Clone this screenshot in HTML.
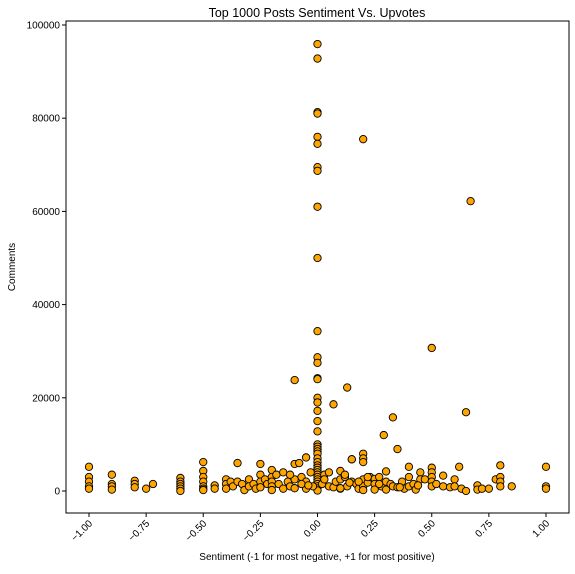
<!DOCTYPE html>
<html><head><meta charset="utf-8"><style>
body{margin:0;background:#fff;font-family:"Liberation Sans",sans-serif;}
svg text{font-family:"Liberation Sans",sans-serif;fill:#000;}
</style></head><body>
<svg id="chart" width="575" height="569"></svg>
<script>
const sentiments=[0,0,0,0,0,0,0,0,0,0,0,0,0,0,0,0,0,0,0,0,0,0,0,0,0,0,0,0,0,0,0,0,0,0,0,0,0,0,0,
-0.1,0.2,0.67,0.5,0.13,0.07,0.65,0.33,0.29,0.35,0.15,0.2,0.2,0.2,
-1,-1,-1,-1,-1,-0.9,-0.9,-0.9,-0.9,-0.8,-0.8,-0.8,-0.75,-0.72,-0.6,-0.6,-0.6,-0.6,-0.6,-0.6,
-0.5,-0.5,-0.5,-0.5,-0.5,-0.5,-0.5,-0.45,-0.45,-0.4,-0.4,-0.4,-0.38,-0.37,-0.35,-0.35,-0.33,-0.32,-0.3,-0.3,-0.28,-0.27,-0.25,-0.25,-0.25,-0.25,-0.23,-0.22,-0.2,-0.2,-0.2,-0.2,-0.2,-0.18,-0.17,-0.15,-0.15,-0.13,-0.12,-0.1,-0.1,-0.1,-0.08,-0.07,-0.05,-0.05,-0.05,-0.03,-0.02,-0.12,-0.07,-0.04,
0.02,0.03,0.05,0.07,0.08,0.1,0.1,0.1,0.12,0.13,0.15,0.15,0.17,0.18,0.2,0.2,0.2,0.22,0.23,0.25,0.25,0.25,0.27,0.28,0.3,0.3,0.3,0.32,0.33,0.35,0.37,0.38,0.4,0.4,0.4,0.42,0.43,0.45,0.45,0.47,0.5,0.5,0.5,0.5,0.5,0.52,0.55,0.55,0.58,0.6,0.6,0.62,0.63,0.65,0.7,0.7,0.72,0.75,0.78,0.8,0.8,0.8,0.8,0.85,1,1,1,0.05,0.12,0.18,0.27,0.36,0.44,0.1,0.03,0.22,0.14];
const comments=[95900,92800,81300,81000,76000,74500,69500,68700,61000,50000,34300,28700,27500,24200,24000,20000,19000,17200,15000,12800,10000,9500,9000,8500,8000,7000,6200,5500,5000,4500,4000,3500,3000,2500,2000,1500,1000,500,100,
23800,75500,62200,30700,22200,18600,16900,15800,12000,9000,6800,8000,7000,6200,
5200,3000,2000,1000,500,3500,1500,1000,300,2200,1500,800,500,1500,2800,2000,1500,1000,500,0,
6200,4300,3000,2000,1000,500,200,1200,500,2500,1500,500,2000,1000,6000,2000,1500,200,2500,1000,1500,500,5800,3500,2000,800,2500,1500,4500,3000,2000,1000,200,3500,1500,4000,500,2000,1000,5800,2500,600,6000,3000,7200,2000,500,4000,1000,3500,1500,1200,
1500,3500,1000,800,2000,4300,2500,500,3000,1000,6800,2000,1500,500,2500,1000,200,1800,3000,2600,1500,300,3000,1000,4200,2000,300,1500,1000,800,2000,500,5200,3000,1000,1500,300,4000,2500,2500,5000,4000,3000,2000,1000,1500,3300,1000,800,2500,1000,5200,500,0,1200,300,500,500,2500,5500,3000,2000,1000,1000,5200,1000,500,4000,3500,2000,1500,800,1200,600,2500,3000,1800];
const xTicks=[-1,-0.75,-0.5,-0.25,0,0.25,0.5,0.75,1];
const yTicks=[0,20000,40000,60000,80000,100000];
const svg=document.getElementById('chart');
const NS='http://www.w3.org/2000/svg';
const L=66,R=569,T=21,B=513;
const xs=v=>317.5+v*228.5;
const ys=v=>491-v*0.00466;
function mk(t,a){const e=document.createElementNS(NS,t);for(const k in a)e.setAttribute(k,a[k]);svg.appendChild(e);return e;}
const title=mk('text',{x:317,y:17,'text-anchor':'middle','font-size':12.5});title.textContent='Top 1000 Posts Sentiment Vs. Upvotes';


for(let i=0;i<sentiments.length;i++){
 const c=mk('circle',{cx:xs(sentiments[i]),cy:ys(comments[i]),r:3.7,fill:'#ffa500',stroke:'#000','stroke-width':0.9});
 
 
}
const frame=mk('rect',{x:L,y:T,width:R-L,height:B-T,fill:'none',stroke:'#000','stroke-width':1});


xTicks.forEach(v=>{
 const x=xs(v);
 mk('line',{x1:x,x2:x,y1:B,y2:B+4,stroke:'#000'});
 const t=mk('text',{'font-size':10,'text-anchor':'end',transform:`translate(${x+4},${B+11}) rotate(-45)`});
 t.textContent=(v<0?'\u2212':'')+Math.abs(v).toFixed(2);
 
 
});
yTicks.forEach(v=>{
 const y=ys(v);
 mk('line',{x1:L-4,x2:L,y1:y,y2:y,stroke:'#000'});
 const t=mk('text',{x:L-6,y:y+3.5,'font-size':10,'text-anchor':'end'});t.textContent=v;
 
 
});
const xl=mk('text',{x:317,y:560,'font-size':10,'text-anchor':'middle'});xl.textContent='Sentiment (-1 for most negative, +1 for most positive)';


const yl=mk('text',{'font-size':10,'text-anchor':'middle',transform:'translate(15,267) rotate(-90)'});yl.textContent='Comments';


</script>
</body></html>
